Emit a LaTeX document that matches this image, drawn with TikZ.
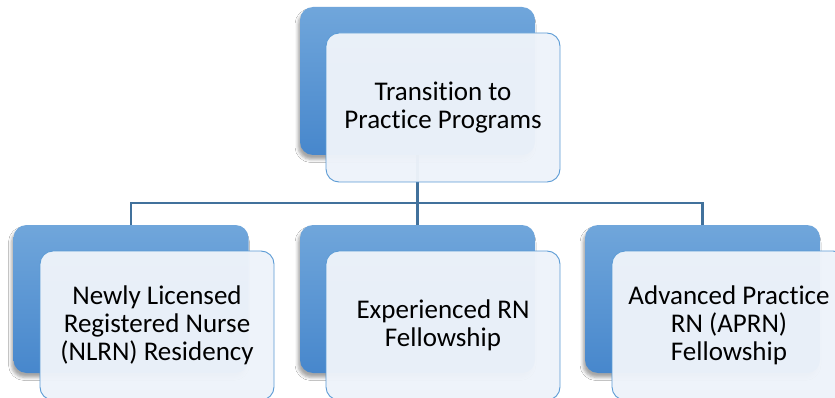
\documentclass[tikz,border=0pt]{standalone}
\usepackage{fontspec}
\setmainfont{Carlito}[Ligatures=NoCommon]
\usetikzlibrary{shadows.blur}
\definecolor{backtop}{HTML}{70A6DB}
\definecolor{backbot}{HTML}{4787CC}
\definecolor{frontfill}{HTML}{EEF3FA}
\definecolor{frontline}{HTML}{5B9BD5}
\definecolor{connline}{HTML}{41719C}
\pgfdeclarelayer{wires}
\pgfsetlayers{wires,main}
\begin{document}
\begin{tikzpicture}[x=1pt,y=-1pt,
  backbox/.style={rounded corners=13pt, minimum width=235pt, minimum height=148pt,
    inner sep=0pt, top color=backtop, bottom color=backbot, draw=none,
    blur shadow={shadow xshift=-2pt, shadow yshift=-4.5pt, shadow blur radius=3pt, shadow opacity=35}},
  frontbox/.style={rounded corners=13pt, minimum width=234pt, minimum height=149pt,
    inner sep=0pt, fill=frontfill, fill opacity=0.965, text opacity=1, draw=frontline,
    line width=0.9pt, align=center, font=\fontsize{27}{28}\selectfont},
  conn/.style={draw=connline, line width=2.2pt}]
\useasboundingbox (0,0) rectangle (835,398);
\coordinate (bar) at (0,203);
% back panels
\node[backbox] (tb) at (417.5,81) {};
\node[backbox] (lb) at (131,299) {};
\node[backbox] (mb) at (417.5,299) {};
\node[backbox] (rb) at (702.5,299) {};
% connectors, kept underneath the panels
\begin{pgfonlayer}{wires}
\fill[white] (0,0) rectangle (835,398);
\draw[conn] (tb.center) -- (tb.center |- bar);
\draw[conn] (lb.north) |- (bar -| rb.north) -- (rb.north);
\draw[conn] (tb.center |- bar) -- (mb.north);
\end{pgfonlayer}
% front panels with text
\node[frontbox] (tf) at (443,107.5) {Transition to\\Practice Programs};
\node[frontbox] (lf) at (157,325.5) {Newly Licensed\\Registered Nurse\\(NLRN) Residency};
\node[frontbox] (mf) at (443,325.5) {Experienced RN\\Fellowship};
\node[frontbox] (rf) at (729,325.5) {Advanced Practice\\RN (APRN)\\Fellowship};
\end{tikzpicture}
\end{document}
